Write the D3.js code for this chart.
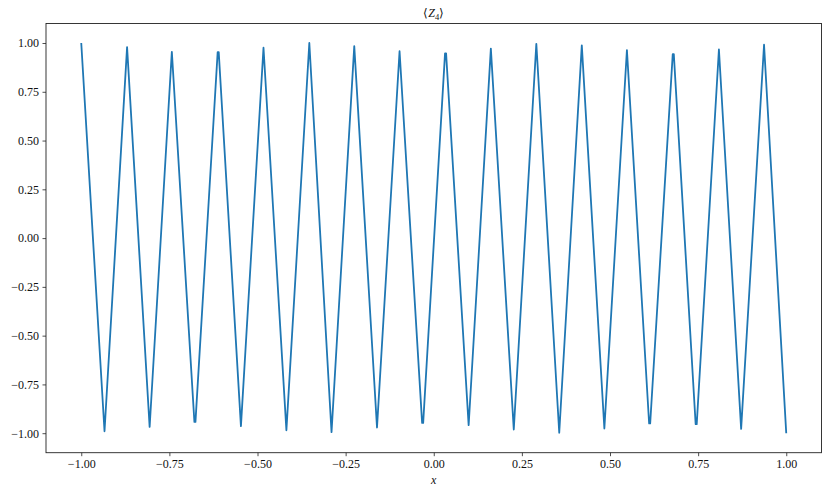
<!DOCTYPE html>
<html>
<head>
<meta charset="utf-8">
<script src="https://cdn.jsdelivr.net/npm/d3@7"></script>
<style>
  html, body { margin: 0; padding: 0; background: #fff; }
  svg { display: block; }
  text { font-family: "Liberation Serif", "Times New Roman", serif; }
</style>
</head>
<body>
<svg id="chart" width="830" height="495"></svg>
<script>
// Data (extrema of the curve)
const xValues = [-1.000, -0.934, -0.870, -0.806, -0.743, -0.679, -0.676, -0.613, -0.610, -0.547,
                 -0.483, -0.418, -0.353, -0.290, -0.2255, -0.161, -0.097, -0.033, -0.030,
                  0.032, 0.035, 0.099, 0.162, 0.227, 0.291, 0.356, 0.420, 0.484, 0.548,
                  0.611, 0.614, 0.678, 0.681, 0.743, 0.746, 0.809, 0.872, 0.937, 1.000];
const yValues = [ 1.000, -0.990,  0.979, -0.968,  0.955, -0.942, -0.942,  0.953,  0.953, -0.964,
                  0.976, -0.985,  1.000, -0.995,  0.984, -0.971,  0.958, -0.947, -0.947,
                  0.947, 0.947, -0.959,  0.971, -0.981,  0.996, -0.998,  0.988, -0.976,  0.964,
                 -0.950, -0.950, 0.943, 0.943, -0.954, -0.954, 0.967, -0.978,  0.991, -1.000];
const xTicks = [-1.00, -0.75, -0.50, -0.25, 0.00, 0.25, 0.50, 0.75, 1.00];
const yTicks = [-1.00, -0.75, -0.50, -0.25, 0.00, 0.25, 0.50, 0.75, 1.00];
const titleMain = "Z";
const titleSub = "4";
const xLabel = "x";

const points = xValues.map((x, i) => ({ x: x, y: yValues[i] }));

const svg = d3.select("#chart");
const L = 46, R = 821.5, T = 23.5, B = 452.7;

const xScale = d3.scaleLinear().domain([-1.1, 1.1]).range([L, R]);
const yScale = d3.scaleLinear().domain([-1.1, 1.1]).range([B, T]);

const fmt = v => d3.format(".2f")(v).replace("-", "\u2212");

// Axes
const xAxis = d3.axisBottom(xScale).tickValues(xTicks).tickFormat(fmt).tickSize(3.5).tickPadding(3.5);
const yAxis = d3.axisLeft(yScale).tickValues(yTicks).tickFormat(fmt).tickSize(3.5).tickPadding(3.5);

const gx = svg.append("g").attr("transform", `translate(0,${B})`).call(xAxis);
const gy = svg.append("g").attr("transform", `translate(${L},0)`).call(yAxis);
[gx, gy].forEach(g => {
  g.attr("font-family", "Liberation Serif").attr("font-size", 12);
  g.select(".domain").remove();
  g.selectAll(".tick line").attr("stroke", "#222").attr("stroke-width", 0.8);
  g.selectAll(".tick text").attr("fill", "#111");
});

// Line
const line = d3.line().x(d => xScale(d.x)).y(d => yScale(d.y));
svg.append("path")
  .datum(points)
  .attr("d", line)
  .attr("fill", "none")
  .attr("stroke", "#1f77b4")
  .attr("stroke-width", 1.8)
  .attr("stroke-linejoin", "round")
  .attr("stroke-linecap", "butt");

// Frame
svg.append("rect")
  .attr("x", L).attr("y", T)
  .attr("width", R - L).attr("height", B - T)
  .attr("fill", "none").attr("stroke", "#222").attr("stroke-width", 0.9);

// Title  ⟨Z₄⟩
const title = svg.append("text")
  .attr("x", (L + R) / 2).attr("y", 17)
  .attr("text-anchor", "middle")
  .attr("font-family", "Liberation Serif")
  .attr("font-size", 12)
  .attr("fill", "#111");
title.append("tspan").text("\u27E8");
title.append("tspan").attr("font-style", "italic").text(titleMain);
title.append("tspan").attr("font-size", 8.5).attr("dy", 2.5).text(titleSub);
title.append("tspan").attr("dy", -2.5).text("\u27E9");

// X label
svg.append("text")
  .attr("x", (L + R) / 2).attr("y", 484)
  .attr("text-anchor", "middle")
  .attr("font-family", "Liberation Serif")
  .attr("font-size", 12)
  .attr("font-style", "italic")
  .attr("fill", "#111")
  .text(xLabel);
</script>
</body>
</html>
